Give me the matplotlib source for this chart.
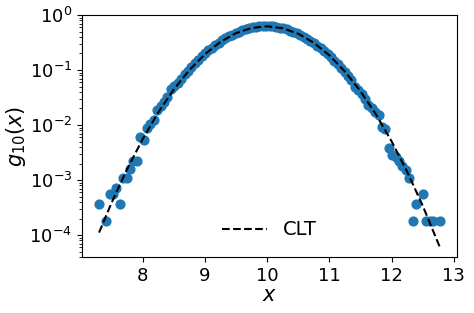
import numpy as np
import matplotlib
matplotlib.use("Agg")
import matplotlib.pyplot as plt

# histogram points of g_10(x) (bin centres and densities)
x_pts = [7.305, 7.414, 7.469, 7.524, 7.579, 7.633, 7.688, 7.743, 7.797, 7.852,
         7.907, 7.961, 8.016, 8.071, 8.126, 8.180, 8.235, 8.290, 8.344, 8.399,
         8.454, 8.508, 8.563, 8.618, 8.673, 8.727, 8.782, 8.837, 8.891, 8.946,
         9.001, 9.055, 9.110, 9.165, 9.220, 9.274, 9.329, 9.384, 9.438, 9.493,
         9.548, 9.602, 9.657, 9.712, 9.766, 9.821, 9.876, 9.930, 9.985, 10.040,
         10.095, 10.149, 10.204, 10.259, 10.313, 10.368, 10.423, 10.477, 10.532, 10.587,
         10.642, 10.696, 10.751, 10.806, 10.860, 10.915, 10.970, 11.024, 11.079, 11.134,
         11.189, 11.243, 11.298, 11.353, 11.408, 11.462, 11.517, 11.572, 11.627, 11.681,
         11.736, 11.790, 11.845, 11.900, 11.954, 12.009, 12.064, 12.118, 12.173, 12.228,
         12.283, 12.337, 12.392, 12.501, 12.556, 12.611, 12.665, 12.775]
g_pts = [3.6e-4, 1.8e-4, 5.5e-4, 5.5e-4, 7.3e-4, 3.6e-4, 1.09e-3, 1.09e-3, 1.6e-3, 2.2e-3,
         2.2e-3, 6.0e-3, 5.3e-3, 8.7e-3, 1.04e-2, 1.23e-2, 1.87e-2, 2.2e-2, 2.65e-2, 3.2e-2,
         4.6e-2, 5.1e-2, 0.058, 0.069, 0.083, 0.098, 0.115, 0.134, 0.155, 0.177,
         0.202, 0.228, 0.256, 0.284, 0.314, 0.345, 0.377, 0.409, 0.440, 0.470,
         0.499, 0.526, 0.552, 0.574, 0.594, 0.609, 0.619, 0.627, 0.630, 0.628,
         0.620, 0.606, 0.589, 0.570, 0.548, 0.523, 0.496, 0.466, 0.435, 0.403,
         0.371, 0.339, 0.308, 0.277, 0.248, 0.220, 0.194, 0.170, 0.147, 0.127,
         0.108, 0.092, 0.077, 0.065, 0.049, 0.044, 0.036, 0.030, 0.023, 0.020,
         0.0175, 0.0150, 0.0093, 0.0085, 0.0039, 0.0029, 0.0026, 0.0022, 0.0018, 0.0015,
         0.0011, 1.8e-4, 3.6e-4, 5.5e-4, 1.8e-4, 1.8e-4, 1.8e-4, 1.8e-4]

# CLT gaussian
x_clt = [7.30, 7.50, 7.75, 8.00, 8.25, 8.50, 8.75, 9.00, 9.25, 9.50, 9.75, 10.00,
         10.25, 10.50, 10.75, 11.00, 11.25, 11.50, 11.75, 12.00, 12.25, 12.50, 12.77]
g_clt = [1.11e-4, 3.83e-4, 1.57e-3, 5.54e-3, 1.69e-2, 4.42e-2, 9.95e-2, 0.194, 0.324, 0.469, 0.582, 0.624,
         0.575, 0.457, 0.313, 0.185, 0.0939, 0.0411, 0.0155, 5.04e-3, 1.41e-3, 3.40e-4, 6.19e-5]

plt.rcParams['font.size'] = 13

fig = plt.figure(figsize=(4.74, 3.13), dpi=100)
ax = fig.add_axes([0.173, 0.179, 0.791, 0.773])

ax.scatter(x_pts, g_pts, s=40, color='C0')
ax.plot(x_clt, g_clt, 'k--', label='CLT')

ax.set_yscale('log')
ax.set_ylim(4e-5, 1)
ax.set_xticks([8, 9, 10, 11, 12, 13])
ax.set_xlabel('$x$', fontsize=15, labelpad=0)
ax.set_ylabel('$g_{10}(x)$', fontsize=15, labelpad=1)
ax.legend(loc='lower center', frameon=False, fontsize=14, handlelength=2.3)

fig.savefig('out.png', dpi=100)
